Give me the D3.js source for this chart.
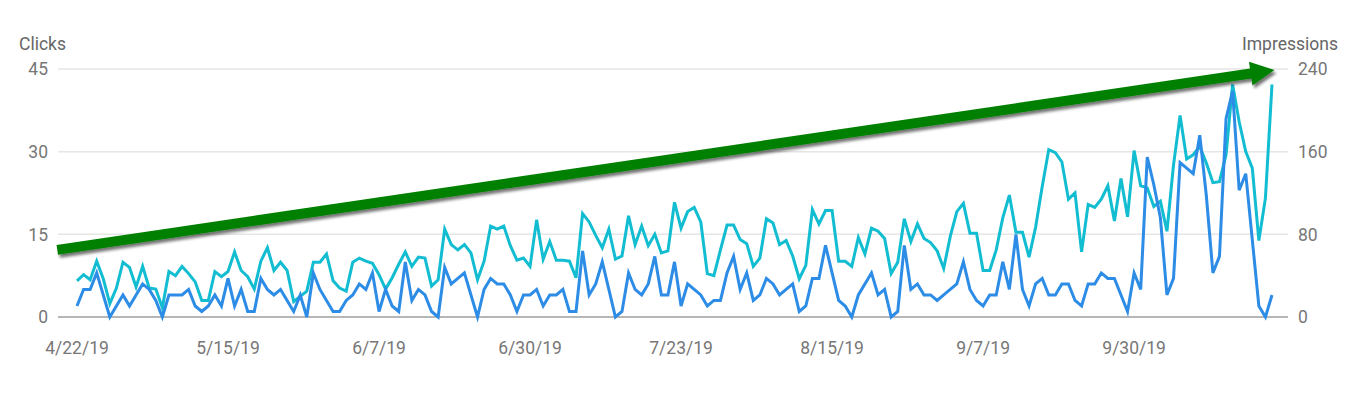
<!DOCTYPE html>
<html>
<head>
<meta charset="utf-8">
<script src="https://cdn.jsdelivr.net/npm/d3@7"></script>
<style>
    body { margin: 0; background: #fff; }
    text { font-family: Roboto, "Noto Sans", sans-serif; }
</style>
</head>
<body>
<div id="container"></div>
<script>
// one value per day, starting 4/22/19
const startDate = "2019-04-22"

const clicks = [
    2, 5, 5, 8, 4, 0, 2, 4, 2, 4, 6, 5, 3, 0, 4, 4, 4, 5, 2, 1, 2, 4,
    2, 7, 2, 5, 1, 1, 7, 5, 4, 5, 3, 1, 4, 0, 8, 5, 3, 1, 1, 3, 4, 6, 5, 8,
    1, 5, 2, 1, 10, 3, 5, 4, 1, 0, 9, 6, 7, 8, 4, 0, 5, 7, 6, 6, 4, 1,
    4, 4, 5, 2, 4, 4, 5, 1, 1, 12, 4, 6, 10, 5, 0, 1, 8, 5, 4, 6, 11, 4, 4,
    10, 2, 6, 5, 4, 2, 3, 3, 8, 11, 5, 8, 3, 4, 7, 6, 4, 5, 6, 1, 2, 7, 7,
    13, 8, 3, 2, 0, 4, 6, 8, 4, 5, 0, 1, 13, 5, 6, 4, 4, 3, 4, 5, 6, 10, 5,
    3, 2, 4, 4, 10, 5, 15, 5, 2, 6, 7, 4, 4, 6, 6, 3, 2, 6, 6, 8, 7, 7, 4,
    1, 8, 5, 29, 24, 18, 4, 7, 28, 27, 26, 33, 22, 8, 11, 36, 41, 23, 26, 14, 2, 0, 4
]

const impressions = [
    35, 41, 36, 54, 37, 13, 28, 53, 48, 29, 49, 28, 27, 9, 44, 40, 49, 42, 34, 16, 16, 44,
    39, 44, 63, 45, 39, 27, 54, 67, 45, 53, 45, 15, 20, 25, 53, 53, 61, 35, 28, 25, 53, 57, 54, 52,
    41, 27, 38, 51, 63, 49, 58, 57, 30, 36, 85, 70, 65, 70, 62, 36, 54, 88, 85, 88, 69, 55,
    57, 49, 94, 56, 73, 55, 55, 54, 38, 100, 92, 79, 67, 85, 56, 59, 98, 70, 88, 69, 80, 62, 64,
    111, 86, 102, 106, 92, 42, 40, 65, 89, 89, 75, 71, 49, 57, 95, 91, 70, 74, 59, 37, 50, 104, 90,
    103, 103, 54, 54, 49, 77, 61, 86, 83, 76, 42, 53, 95, 73, 90, 76, 72, 64, 47, 78, 102, 110, 81,
    81, 45, 45, 65, 96, 118, 82, 82, 58, 87, 126, 162, 159, 150, 114, 120, 63, 109, 106, 114, 127, 93, 134,
    97, 161, 127, 125, 107, 112, 83, 147, 195, 153, 157, 165, 149, 130, 131, 157, 225, 189, 160, 144, 74, 115, 225
]

const xTickLabels = ["4/22/19", "5/15/19", "6/7/19", "6/30/19", "7/23/19", "8/15/19", "9/7/19", "9/30/19"]
const clickTicks = [0, 15, 30, 45]
const impressionTicks = [0, 80, 160, 240]

// trend arrow drawn by hand on the screenshot, in impressions units
const trendStart = { date: "2019-04-19", value: 65 }
const trendEnd = { date: "2019-10-21T09:00", value: 239 }

const chart = {
    width: 1361,
    height: 397,
    plotLeft: 77,
    plotRight: 1272,
    gridLeft: 58,
    gridRight: 1288,
    top: 69,
    bottom: 317,
    font: 17.5,
    tickColor: "#777",
    titleColor: "#666",
    clickColor: "#2c8ce6",
    impressionColor: "#12bdd1",
    arrowColor: "#038003"
}

const parseDay = d3.timeParse("%Y-%m-%d")
const parseTime = d3.timeParse("%Y-%m-%dT%H:%M")
const parseTick = d3.timeParse("%m/%d/%y")

const first = parseDay(startDate)
const days = clicks.map((c, i) => d3.timeDay.offset(first, i))
const rows = days.map((d, i) => ({ date: d, clicks: clicks[i], impressions: impressions[i] }))

const x = d3.scaleTime()
    .domain([days[0], days[days.length - 1]])
    .range([chart.plotLeft, chart.plotRight])

const yClicks = d3.scaleLinear().domain([0, 45]).range([chart.bottom, chart.top])
const yImpr = d3.scaleLinear().domain([0, 240]).range([chart.bottom, chart.top])

const svg = d3.select("#container")
    .append("svg")
    .attr("width", chart.width)
    .attr("height", chart.height)

/********************* Grid and axes ************************/

svg.append("g")
    .selectAll("line")
    .data(clickTicks)
    .enter()
    .append("line")
    .attr("x1", chart.gridLeft)
    .attr("x2", chart.gridRight)
    .attr("y1", d => yClicks(d))
    .attr("y2", d => yClicks(d))
    .attr("stroke", d => d === 0 ? "#9e9e9e" : "#e6e6e6")
    .attr("stroke-width", 1.5)

svg.append("g")
    .selectAll("text")
    .data(clickTicks)
    .enter()
    .append("text")
    .attr("x", 48)
    .attr("y", d => yClicks(d))
    .attr("dy", "0.36em")
    .attr("text-anchor", "end")
    .attr("font-size", chart.font)
    .attr("fill", chart.tickColor)
    .text(d => d)

svg.append("g")
    .selectAll("text")
    .data(impressionTicks)
    .enter()
    .append("text")
    .attr("x", 1298)
    .attr("y", d => yImpr(d))
    .attr("dy", "0.36em")
    .attr("text-anchor", "start")
    .attr("font-size", chart.font)
    .attr("fill", chart.tickColor)
    .text(d => d)

svg.append("g")
    .selectAll("text")
    .data(xTickLabels)
    .enter()
    .append("text")
    .attr("x", d => x(parseTick(d)))
    .attr("y", 354)
    .attr("text-anchor", "middle")
    .attr("font-size", chart.font)
    .attr("fill", chart.tickColor)
    .text(d => d)

svg.append("text")
    .attr("x", 19)
    .attr("y", 50)
    .attr("font-size", chart.font)
    .attr("fill", chart.titleColor)
    .text("Clicks")

svg.append("text")
    .attr("x", 1338)
    .attr("y", 50)
    .attr("text-anchor", "end")
    .attr("font-size", chart.font)
    .attr("fill", chart.titleColor)
    .text("Impressions")

/********************* Lines ************************/

const impressionLine = d3.line()
    .x(d => x(d.date))
    .y(d => yImpr(d.impressions))

const clickLine = d3.line()
    .x(d => x(d.date))
    .y(d => yClicks(d.clicks))

svg.append("path")
    .datum(rows)
    .attr("fill", "none")
    .attr("stroke", chart.impressionColor)
    .attr("stroke-width", 3)
    .attr("d", impressionLine)

svg.append("path")
    .datum(rows)
    .attr("fill", "none")
    .attr("stroke", chart.clickColor)
    .attr("stroke-width", 3)
    .attr("d", clickLine)

/********************* Trend arrow ************************/

const defs = svg.append("defs")
defs.append("filter")
    .attr("id", "shadow")
    .attr("x", "-5%").attr("y", "-50%")
    .attr("width", "110%").attr("height", "200%")
    .append("feDropShadow")
    .attr("dx", 2)
    .attr("dy", 3)
    .attr("stdDeviation", 1.8)
    .attr("flood-color", "#000")
    .attr("flood-opacity", 0.55)

function arrowPath(x0, y0, x1, y1, shaft, headLen, headWidth) {
    const len = Math.hypot(x1 - x0, y1 - y0)
    const ux = (x1 - x0) / len, uy = (y1 - y0) / len
    const nx = -uy, ny = ux
    const bx = x1 - ux * headLen, by = y1 - uy * headLen
    const p = [
        [x0 + nx * shaft / 2, y0 + ny * shaft / 2],
        [bx + nx * shaft / 2, by + ny * shaft / 2],
        [bx + nx * headWidth / 2, by + ny * headWidth / 2],
        [x1, y1],
        [bx - nx * headWidth / 2, by - ny * headWidth / 2],
        [bx - nx * shaft / 2, by - ny * shaft / 2],
        [x0 - nx * shaft / 2, y0 - ny * shaft / 2]
    ]
    return "M" + p.map(d => d.join(",")).join("L") + "Z"
}

svg.append("path")
    .attr("d", arrowPath(
        x(parseDay(trendStart.date)), yImpr(trendStart.value),
        x(parseTime(trendEnd.date)), yImpr(trendEnd.value),
        10, 24, 24))
    .attr("fill", chart.arrowColor)
    .attr("filter", "url(#shadow)")
</script>
</body>
</html>
